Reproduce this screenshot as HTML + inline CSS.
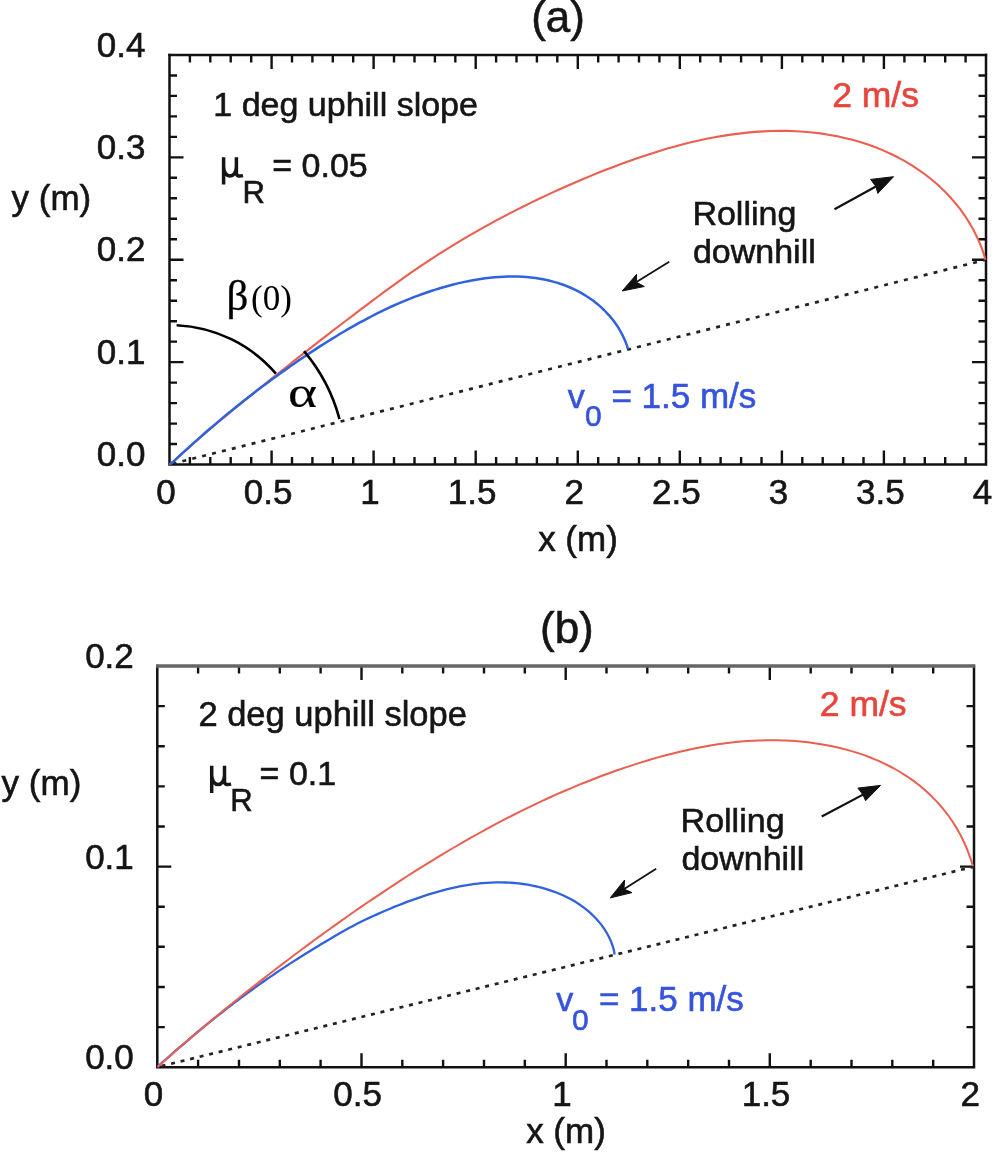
<!DOCTYPE html><html><head><meta charset="utf-8"><style>html,body{margin:0;padding:0;background:#fff;}svg{display:block;filter:blur(0.5px);}text{font-family:"Liberation Sans",sans-serif;}</style></head><body>
<svg width="996" height="1152" viewBox="0 0 996 1152">
<rect width="996" height="1152" fill="#fff"/>
<path d="M189.9,464.5v-7.5M189.9,55.0v7.5M210.3,464.5v-7.5M210.3,55.0v7.5M230.7,464.5v-7.5M230.7,55.0v7.5M251.2,464.5v-7.5M251.2,55.0v7.5M271.6,464.5v-14.0M271.6,55.0v14.0M292.0,464.5v-7.5M292.0,55.0v7.5M312.4,464.5v-7.5M312.4,55.0v7.5M332.8,464.5v-7.5M332.8,55.0v7.5M353.2,464.5v-7.5M353.2,55.0v7.5M373.6,464.5v-14.0M373.6,55.0v14.0M394.0,464.5v-7.5M394.0,55.0v7.5M414.5,464.5v-7.5M414.5,55.0v7.5M434.9,464.5v-7.5M434.9,55.0v7.5M455.3,464.5v-7.5M455.3,55.0v7.5M475.7,464.5v-14.0M475.7,55.0v14.0M496.1,464.5v-7.5M496.1,55.0v7.5M516.5,464.5v-7.5M516.5,55.0v7.5M536.9,464.5v-7.5M536.9,55.0v7.5M557.3,464.5v-7.5M557.3,55.0v7.5M577.8,464.5v-14.0M577.8,55.0v14.0M598.2,464.5v-7.5M598.2,55.0v7.5M618.6,464.5v-7.5M618.6,55.0v7.5M639.0,464.5v-7.5M639.0,55.0v7.5M659.4,464.5v-7.5M659.4,55.0v7.5M679.8,464.5v-14.0M679.8,55.0v14.0M700.2,464.5v-7.5M700.2,55.0v7.5M720.6,464.5v-7.5M720.6,55.0v7.5M741.1,464.5v-7.5M741.1,55.0v7.5M761.5,464.5v-7.5M761.5,55.0v7.5M781.9,464.5v-14.0M781.9,55.0v14.0M802.3,464.5v-7.5M802.3,55.0v7.5M822.7,464.5v-7.5M822.7,55.0v7.5M843.1,464.5v-7.5M843.1,55.0v7.5M863.5,464.5v-7.5M863.5,55.0v7.5M883.9,464.5v-14.0M883.9,55.0v14.0M904.4,464.5v-7.5M904.4,55.0v7.5M924.8,464.5v-7.5M924.8,55.0v7.5M945.2,464.5v-7.5M945.2,55.0v7.5M965.6,464.5v-7.5M965.6,55.0v7.5M169.5,444.0h7.5M986.0,444.0h-7.5M169.5,423.6h7.5M986.0,423.6h-7.5M169.5,403.1h7.5M986.0,403.1h-7.5M169.5,382.6h7.5M986.0,382.6h-7.5M169.5,362.1h14.0M986.0,362.1h-14.0M169.5,341.6h7.5M986.0,341.6h-7.5M169.5,321.2h7.5M986.0,321.2h-7.5M169.5,300.7h7.5M986.0,300.7h-7.5M169.5,280.2h7.5M986.0,280.2h-7.5M169.5,259.8h14.0M986.0,259.8h-14.0M169.5,239.3h7.5M986.0,239.3h-7.5M169.5,218.8h7.5M986.0,218.8h-7.5M169.5,198.3h7.5M986.0,198.3h-7.5M169.5,177.8h7.5M986.0,177.8h-7.5M169.5,157.4h14.0M986.0,157.4h-14.0M169.5,136.9h7.5M986.0,136.9h-7.5M169.5,116.4h7.5M986.0,116.4h-7.5M169.5,95.9h7.5M986.0,95.9h-7.5M169.5,75.5h7.5M986.0,75.5h-7.5" stroke="#111" stroke-width="2.4" fill="none"/>
<path d="M169.5,53.8V464.5H986.0V53.8" stroke="#111" stroke-width="2.5" fill="none" stroke-linejoin="miter"/>
<path d="M168.3,55.0H987.2" stroke="#111" stroke-width="2.6" fill="none"/>
<path d="M198.1,1067.2v-7.5M198.1,666.0v7.5M239.0,1067.2v-7.5M239.0,666.0v7.5M279.8,1067.2v-7.5M279.8,666.0v7.5M320.6,1067.2v-7.5M320.6,666.0v7.5M361.5,1067.2v-14.0M361.5,666.0v14.0M402.3,1067.2v-7.5M402.3,666.0v7.5M443.1,1067.2v-7.5M443.1,666.0v7.5M484.0,1067.2v-7.5M484.0,666.0v7.5M524.8,1067.2v-7.5M524.8,666.0v7.5M565.7,1067.2v-14.0M565.7,666.0v14.0M606.5,1067.2v-7.5M606.5,666.0v7.5M647.3,1067.2v-7.5M647.3,666.0v7.5M688.2,1067.2v-7.5M688.2,666.0v7.5M729.0,1067.2v-7.5M729.0,666.0v7.5M769.8,1067.2v-14.0M769.8,666.0v14.0M810.7,1067.2v-7.5M810.7,666.0v7.5M851.5,1067.2v-7.5M851.5,666.0v7.5M892.3,1067.2v-7.5M892.3,666.0v7.5M933.2,1067.2v-7.5M933.2,666.0v7.5M157.3,1027.1h7.5M974.0,1027.1h-7.5M157.3,987.0h7.5M974.0,987.0h-7.5M157.3,946.8h7.5M974.0,946.8h-7.5M157.3,906.7h7.5M974.0,906.7h-7.5M157.3,866.6h14.0M974.0,866.6h-14.0M157.3,826.5h7.5M974.0,826.5h-7.5M157.3,786.4h7.5M974.0,786.4h-7.5M157.3,746.2h7.5M974.0,746.2h-7.5M157.3,706.1h7.5M974.0,706.1h-7.5" stroke="#111" stroke-width="2.4" fill="none"/>
<path d="M157.3,664.8V1067.2H974.0V664.8" stroke="#111" stroke-width="2.5" fill="none" stroke-linejoin="miter"/>
<path d="M156.1,666.0H975.2" stroke="#666" stroke-width="3.4" fill="none"/>
<path d="M172.5,463.7L986.0,259.7" stroke="#222" stroke-width="2.7" stroke-dasharray="4 6.19" fill="none"/>
<path d="M160.3,1066.4L974.0,866.6" stroke="#222" stroke-width="2.7" stroke-dasharray="4 5.8" stroke-dashoffset="-1.3" fill="none"/>
<path d="M169.5,464.5 L175.7,459.2 L181.8,453.8 L187.9,448.4 L194.0,443.0 L200.1,437.6 L206.3,432.3 L212.5,427.0 L218.7,421.8 L224.9,416.6 L231.2,411.4 L237.5,406.2 L243.8,401.1 L250.1,395.9 L256.4,390.8 L262.8,385.7 L269.1,380.6 L275.5,375.6 L281.9,370.5 L288.3,365.5 L294.6,360.4 L301.1,355.4 L307.5,350.4 L313.9,345.4 L320.3,340.4 L326.8,335.4 L333.2,330.4 L339.7,325.5 L346.2,320.5 L352.7,315.6 L359.1,310.7 L365.6,305.8 L372.2,300.9 L378.7,296.0 L385.2,291.2 L391.8,286.4 L398.4,281.6 L405.0,276.9 L411.7,272.2 L418.4,267.6 L425.1,263.1 L431.9,258.6 L438.8,254.2 L445.6,249.8 L452.6,245.6 L459.5,241.4 L466.5,237.2 L473.6,233.1 L480.6,229.1 L487.8,225.1 L494.9,221.2 L502.1,217.4 L509.3,213.6 L516.6,209.9 L523.8,206.2 L531.2,202.6 L538.5,199.0 L545.9,195.6 L553.3,192.1 L560.7,188.8 L568.2,185.5 L575.7,182.2 L583.2,179.0 L590.7,175.9 L598.2,172.8 L605.8,169.8 L613.4,166.9 L621.0,164.0 L628.7,161.2 L636.4,158.5 L644.0,155.9 L651.8,153.4 L659.5,150.9 L667.3,148.6 L675.1,146.4 L683.0,144.3 L690.9,142.3 L698.8,140.5 L706.7,138.8 L714.7,137.3 L722.8,135.9 L730.8,134.6 L738.9,133.6 L747.0,132.6 L755.2,131.9 L763.3,131.4 L771.5,131.0 L779.7,130.9 L787.8,130.9 L796.0,131.2 L804.1,131.7 L812.3,132.5 L820.4,133.4 L828.4,134.7 L836.5,136.1 L844.4,137.9 L852.4,139.8 L860.2,142.1 L867.9,144.6 L875.6,147.3 L883.1,150.4 L890.5,153.7 L897.8,157.3 L904.9,161.2 L911.9,165.3 L918.6,169.8 L925.2,174.5 L931.6,179.5 L937.8,184.8 L943.7,190.4 L949.3,196.3 L954.7,202.4 L959.8,208.7 L964.6,215.3 L969.0,222.2 L973.1,229.2 L976.8,236.6 L980.2,244.1 L983.1,251.9 L985.5,259.6" stroke="#ec5e50" stroke-width="2.1" fill="none" stroke-linejoin="round"/>
<path d="M169.5,464.5 L173.2,461.8 L176.6,458.7 L179.9,455.5 L183.3,452.4 L186.7,449.3 L190.1,446.2 L193.5,443.1 L196.9,440.1 L200.3,437.1 L203.8,434.0 L207.2,431.0 L210.7,428.0 L214.2,425.1 L217.7,422.1 L221.2,419.1 L224.7,416.2 L228.3,413.3 L231.8,410.4 L235.4,407.5 L238.9,404.7 L242.5,401.8 L246.1,399.0 L249.7,396.2 L253.4,393.4 L257.0,390.6 L260.7,387.8 L264.3,385.1 L268.0,382.4 L271.7,379.6 L275.4,376.9 L279.1,374.3 L282.8,371.6 L286.6,369.0 L290.3,366.3 L294.1,363.7 L297.8,361.1 L301.6,358.5 L305.4,356.0 L309.2,353.4 L313.1,350.9 L316.9,348.4 L320.7,345.9 L324.6,343.5 L328.5,341.0 L332.4,338.6 L336.3,336.2 L340.2,333.8 L344.1,331.5 L348.1,329.2 L352.1,326.9 L356.0,324.7 L360.0,322.4 L364.1,320.3 L368.1,318.1 L372.2,316.0 L376.2,313.9 L380.3,311.9 L384.4,309.9 L388.6,307.9 L392.7,306.0 L396.9,304.2 L401.1,302.4 L405.3,300.6 L409.6,298.9 L413.8,297.2 L418.1,295.6 L422.4,294.0 L426.8,292.5 L431.1,291.0 L435.5,289.6 L439.9,288.2 L444.4,287.0 L448.8,285.7 L453.3,284.5 L457.8,283.4 L462.4,282.4 L466.9,281.4 L471.5,280.5 L476.1,279.7 L480.6,279.0 L485.2,278.3 L489.9,277.8 L494.5,277.3 L499.1,277.0 L503.7,276.7 L508.3,276.6 L512.8,276.5 L517.4,276.6 L522.0,276.8 L526.5,277.1 L531.0,277.5 L535.5,278.0 L539.9,278.7 L544.4,279.6 L548.8,280.5 L553.1,281.6 L557.4,282.9 L561.7,284.3 L566.0,285.8 L570.1,287.5 L574.3,289.4 L578.3,291.4 L582.3,293.6 L586.2,296.0 L590.0,298.5 L593.7,301.1 L597.2,303.9 L600.7,306.9 L604.0,310.0 L607.2,313.3 L610.3,316.7 L613.2,320.3 L615.9,324.0 L618.5,327.9 L620.8,332.0 L623.0,336.2 L625.0,340.5 L626.8,345.1 L628.0,349.2" stroke="#2f62dc" stroke-width="2.5" fill="none" stroke-linejoin="round"/>
<path d="M157.5,1067.0 L160.8,1063.9 L164.2,1060.8 L167.7,1057.8 L171.1,1054.8 L174.5,1051.7 L178.0,1048.7 L181.4,1045.8 L184.9,1042.8 L188.4,1039.8 L191.8,1036.9 L195.3,1033.9 L198.8,1031.0 L202.3,1028.1 L205.9,1025.2 L209.4,1022.4 L212.9,1019.5 L216.5,1016.7 L220.1,1013.8 L223.7,1011.0 L227.2,1008.2 L230.8,1005.5 L234.5,1002.7 L238.1,1000.0 L241.7,997.2 L245.4,994.5 L249.1,991.8 L252.8,989.2 L256.4,986.5 L260.2,983.9 L263.9,981.2 L267.6,978.6 L271.4,976.1 L275.2,973.5 L279.0,970.9 L282.8,968.4 L286.6,965.9 L290.4,963.4 L294.3,960.9 L298.1,958.5 L302.0,956.0 L305.9,953.6 L309.7,951.2 L313.6,948.8 L317.5,946.4 L321.4,944.1 L325.3,941.7 L329.2,939.4 L333.2,937.0 L337.1,934.8 L341.0,932.5 L345.0,930.3 L349.0,928.1 L353.0,925.9 L357.0,923.8 L361.0,921.8 L365.1,919.8 L369.2,917.9 L373.3,916.0 L377.5,914.1 L381.6,912.3 L385.8,910.5 L390.0,908.7 L394.2,906.9 L398.5,905.2 L402.7,903.6 L407.0,901.9 L411.3,900.3 L415.6,898.8 L420.0,897.3 L424.3,895.8 L428.7,894.4 L433.1,893.1 L437.5,891.8 L441.9,890.6 L446.4,889.4 L450.8,888.4 L455.3,887.4 L459.7,886.4 L464.2,885.6 L468.7,884.9 L473.2,884.2 L477.7,883.7 L482.2,883.2 L486.8,882.8 L491.3,882.6 L495.9,882.4 L500.4,882.4 L505.0,882.5 L509.5,882.7 L514.1,883.0 L518.7,883.4 L523.2,884.0 L527.8,884.7 L532.3,885.6 L536.8,886.5 L541.3,887.6 L545.7,888.9 L550.1,890.3 L554.5,891.8 L558.7,893.5 L562.9,895.3 L567.0,897.2 L571.0,899.3 L575.0,901.6 L578.8,904.0 L582.5,906.6 L586.1,909.3 L589.5,912.2 L592.8,915.3 L596.0,918.5 L599.0,921.9 L601.8,925.4 L604.4,929.1 L606.8,933.0 L609.0,937.0 L610.9,941.2 L612.5,945.5 L613.9,950.1 L614.6,954.7" stroke="#2f62dc" stroke-width="2.3" fill="none" stroke-linejoin="round"/>
<path d="M157.5,1067.0 L163.5,1061.6 L169.6,1056.2 L175.7,1050.8 L181.8,1045.5 L188.0,1040.2 L194.2,1035.0 L200.3,1029.7 L206.5,1024.5 L212.7,1019.4 L219.0,1014.2 L225.2,1009.1 L231.5,1004.0 L237.8,999.0 L244.1,993.9 L250.4,988.9 L256.8,983.9 L263.1,978.9 L269.5,974.0 L275.9,969.0 L282.3,964.1 L288.8,959.2 L295.3,954.3 L301.7,949.5 L308.3,944.6 L314.8,939.8 L321.3,935.1 L327.9,930.3 L334.5,925.6 L341.1,920.9 L347.7,916.2 L354.4,911.5 L361.1,906.9 L367.8,902.3 L374.5,897.8 L381.2,893.3 L387.9,888.8 L394.7,884.3 L401.5,879.9 L408.3,875.5 L415.1,871.2 L422.0,866.9 L428.9,862.6 L435.8,858.4 L442.7,854.2 L449.6,850.0 L456.6,846.0 L463.6,841.9 L470.6,837.9 L477.6,834.0 L484.7,830.1 L491.8,826.2 L498.9,822.4 L506.1,818.7 L513.3,815.0 L520.5,811.4 L527.7,807.9 L535.0,804.4 L542.3,800.9 L549.7,797.5 L557.0,794.2 L564.4,791.0 L571.9,787.8 L579.3,784.7 L586.9,781.7 L594.4,778.7 L602.0,775.8 L609.6,773.0 L617.3,770.3 L625.0,767.6 L632.7,765.1 L640.5,762.6 L648.3,760.2 L656.1,757.9 L664.0,755.7 L671.8,753.7 L679.8,751.7 L687.7,749.9 L695.6,748.2 L703.6,746.7 L711.6,745.3 L719.6,744.1 L727.6,743.0 L735.6,742.1 L743.7,741.3 L751.7,740.8 L759.8,740.4 L767.8,740.2 L775.9,740.2 L783.9,740.4 L792.0,740.8 L800.0,741.4 L808.1,742.3 L816.1,743.4 L824.1,744.7 L832.1,746.2 L840.1,748.0 L847.9,750.1 L855.8,752.4 L863.5,754.9 L871.1,757.8 L878.6,760.9 L885.9,764.3 L893.1,768.0 L900.1,772.0 L906.9,776.3 L913.5,780.9 L919.9,785.8 L926.0,791.0 L931.9,796.6 L937.5,802.4 L942.8,808.5 L947.8,814.8 L952.5,821.5 L956.8,828.4 L960.8,835.5 L964.4,842.9 L967.6,850.5 L970.4,858.3 L973.0,866.0" stroke="#ec5e50" stroke-width="2.0" fill="none" stroke-linejoin="round"/>
<path d="M176.6,325.2A139.5,139.5 0 0 1 275.9,373.7" stroke="#000" stroke-width="2.6" fill="none"/>
<path d="M304.0,351.2A175.5,175.5 0 0 1 339.5,419.1" stroke="#000" stroke-width="2.6" fill="none"/>
<path d="M834.5,209.2L881.8,183.2" stroke="#111" stroke-width="2.2" fill="none"/>
<path d="M893.6,176.7L870.6,179.4L875.9,186.4L877.8,193.4Z" fill="#111" stroke="#111" stroke-width="1" stroke-linejoin="round"/>
<path d="M669.2,261.7L631.6,285.1" stroke="#111" stroke-width="1.8" fill="none"/>
<path d="M622.2,291.0L636.6,274.3L636.3,282.2L644.3,286.5Z" fill="#111" stroke="#111" stroke-width="1" stroke-linejoin="round"/>
<path d="M821.7,816.5L868.7,791.6" stroke="#111" stroke-width="2.2" fill="none"/>
<path d="M880.5,785.4L857.9,788.1L862.9,794.7L865.6,800.7Z" fill="#111" stroke="#111" stroke-width="1" stroke-linejoin="round"/>
<path d="M656.2,868.7L619.4,892.1" stroke="#111" stroke-width="1.8" fill="none"/>
<path d="M610.2,897.9L624.6,880.0L624.0,889.1L632.0,892.6Z" fill="#111" stroke="#111" stroke-width="1" stroke-linejoin="round"/>
<text x="558.1" y="32.0" font-size="44.0" text-anchor="middle" fill="#151515" stroke="#151515" stroke-width="0.6">(a)</text>
<text x="145.5" y="466.1" font-size="35.0" text-anchor="end" fill="#151515" stroke="#151515" stroke-width="0.6">0.0</text>
<text x="145.5" y="363.7" font-size="35.0" text-anchor="end" fill="#151515" stroke="#151515" stroke-width="0.6">0.1</text>
<text x="145.5" y="261.4" font-size="35.0" text-anchor="end" fill="#151515" stroke="#151515" stroke-width="0.6">0.2</text>
<text x="145.5" y="159.0" font-size="35.0" text-anchor="end" fill="#151515" stroke="#151515" stroke-width="0.6">0.3</text>
<text x="145.5" y="56.6" font-size="35.0" text-anchor="end" fill="#151515" stroke="#151515" stroke-width="0.6">0.4</text>
<text x="166.0" y="504.2" font-size="35.0" text-anchor="middle" fill="#151515" stroke="#151515" stroke-width="0.6">0</text>
<text x="268.1" y="504.2" font-size="35.0" text-anchor="middle" fill="#151515" stroke="#151515" stroke-width="0.6">0.5</text>
<text x="370.1" y="504.2" font-size="35.0" text-anchor="middle" fill="#151515" stroke="#151515" stroke-width="0.6">1</text>
<text x="472.2" y="504.2" font-size="35.0" text-anchor="middle" fill="#151515" stroke="#151515" stroke-width="0.6">1.5</text>
<text x="574.2" y="504.2" font-size="35.0" text-anchor="middle" fill="#151515" stroke="#151515" stroke-width="0.6">2</text>
<text x="676.3" y="504.2" font-size="35.0" text-anchor="middle" fill="#151515" stroke="#151515" stroke-width="0.6">2.5</text>
<text x="778.4" y="504.2" font-size="35.0" text-anchor="middle" fill="#151515" stroke="#151515" stroke-width="0.6">3</text>
<text x="880.4" y="504.2" font-size="35.0" text-anchor="middle" fill="#151515" stroke="#151515" stroke-width="0.6">3.5</text>
<text x="982.5" y="504.2" font-size="35.0" text-anchor="middle" fill="#151515" stroke="#151515" stroke-width="0.6">4</text>
<text x="578.0" y="550.5" font-size="35.0" text-anchor="middle" fill="#151515" stroke="#151515" stroke-width="0.6">x (m)</text>
<text x="11.5" y="210.0" font-size="35.0" text-anchor="start" fill="#151515" stroke="#151515" stroke-width="0.6">y (m)</text>
<text x="213.3" y="116.4" font-size="34.0" text-anchor="start" fill="#151515" stroke="#151515" stroke-width="0.6">1 deg uphill slope</text>
<path d="M223.6,157.2V184.6M223.6,166.5C223.6,179.2 236.4,179.2 236.4,166.5M236.4,157.2V172.8C236.4,176 238.5,176.6 243,175.6" transform="translate(0,0)" stroke="#151515" stroke-width="3.5" fill="none" stroke-linecap="butt"/>
<text x="242.5" y="202.8" font-size="31.0" text-anchor="start" fill="#151515" stroke="#151515" stroke-width="0.6">R</text>
<text x="272.3" y="176.7" font-size="34.0" text-anchor="start" fill="#151515" stroke="#151515" stroke-width="0.6">= 0.05</text>
<text x="832.2" y="107.2" font-size="35.5" text-anchor="start" fill="#e8453c" stroke="#e8453c" stroke-width="0.6">2 m/s</text>
<text x="692.4" y="224.6" font-size="34.0" text-anchor="start" fill="#151515" stroke="#151515" stroke-width="0.6">Rolling</text>
<text x="692.9" y="263.0" font-size="34.0" text-anchor="start" fill="#151515" stroke="#151515" stroke-width="0.6">downhill</text>
<text x="567.7" y="407.8" font-size="34.0" text-anchor="start" fill="#3553dc" stroke="#3553dc" stroke-width="0.6">v</text>
<text x="584.9" y="426.0" font-size="30.0" text-anchor="start" fill="#3553dc" stroke="#3553dc" stroke-width="0.6">0</text>
<text x="611.4" y="408.0" font-size="35.0" text-anchor="start" fill="#3553dc" stroke="#3553dc" stroke-width="0.6">= 1.5 m/s</text>
<text x="226.6" y="310" font-size="43" fill="#000" stroke="#000" stroke-width="0.3" style="font-family:'Liberation Serif',serif">β</text>
<text x="251" y="310" font-size="35" fill="#000" style="font-family:'Liberation Serif',serif">(0)</text>
<text x="0" y="0" font-size="44" fill="#000" stroke="#000" stroke-width="0.15" style="font-family:'Liberation Serif',serif" transform="translate(288,407) scale(1.26,1)">α</text>
<text x="566.9" y="642.5" font-size="44.0" text-anchor="middle" fill="#151515" stroke="#151515" stroke-width="0.6">(b)</text>
<text x="133.8" y="1069.2" font-size="35.0" text-anchor="end" fill="#151515" stroke="#151515" stroke-width="0.6">0.0</text>
<text x="133.8" y="868.6" font-size="35.0" text-anchor="end" fill="#151515" stroke="#151515" stroke-width="0.6">0.1</text>
<text x="133.8" y="668.0" font-size="35.0" text-anchor="end" fill="#151515" stroke="#151515" stroke-width="0.6">0.2</text>
<text x="153.5" y="1105.7" font-size="35.0" text-anchor="middle" fill="#151515" stroke="#151515" stroke-width="0.6">0</text>
<text x="357.7" y="1105.7" font-size="35.0" text-anchor="middle" fill="#151515" stroke="#151515" stroke-width="0.6">0.5</text>
<text x="561.9" y="1105.7" font-size="35.0" text-anchor="middle" fill="#151515" stroke="#151515" stroke-width="0.6">1</text>
<text x="766.0" y="1105.7" font-size="35.0" text-anchor="middle" fill="#151515" stroke="#151515" stroke-width="0.6">1.5</text>
<text x="970.2" y="1105.7" font-size="35.0" text-anchor="middle" fill="#151515" stroke="#151515" stroke-width="0.6">2</text>
<text x="566.0" y="1143.0" font-size="35.0" text-anchor="middle" fill="#151515" stroke="#151515" stroke-width="0.6">x (m)</text>
<text x="1.6" y="795.0" font-size="35.0" text-anchor="start" fill="#151515" stroke="#151515" stroke-width="0.6">y (m)</text>
<text x="198.4" y="726.4" font-size="34.5" text-anchor="start" fill="#151515" stroke="#151515" stroke-width="0.6">2 deg uphill slope</text>
<path d="M223.6,157.2V184.6M223.6,166.5C223.6,179.2 236.4,179.2 236.4,166.5M236.4,157.2V172.8C236.4,176 238.5,176.6 243,175.6" transform="translate(-11.9,608.5)" stroke="#151515" stroke-width="3.5" fill="none" stroke-linecap="butt"/>
<text x="230.2" y="811.0" font-size="31.0" text-anchor="start" fill="#151515" stroke="#151515" stroke-width="0.6">R</text>
<text x="259.6" y="784.6" font-size="34.0" text-anchor="start" fill="#151515" stroke="#151515" stroke-width="0.6">= 0.1</text>
<text x="819.8" y="715.9" font-size="35.5" text-anchor="start" fill="#e8453c" stroke="#e8453c" stroke-width="0.6">2 m/s</text>
<text x="680.6" y="831.9" font-size="34.0" text-anchor="start" fill="#151515" stroke="#151515" stroke-width="0.6">Rolling</text>
<text x="681.4" y="869.5" font-size="34.0" text-anchor="start" fill="#151515" stroke="#151515" stroke-width="0.6">downhill</text>
<text x="556.3" y="1010.6" font-size="34.0" text-anchor="start" fill="#3553dc" stroke="#3553dc" stroke-width="0.6">v</text>
<text x="571.9" y="1029.5" font-size="30.0" text-anchor="start" fill="#3553dc" stroke="#3553dc" stroke-width="0.6">0</text>
<text x="598.9" y="1010.8" font-size="35.0" text-anchor="start" fill="#3553dc" stroke="#3553dc" stroke-width="0.6">= 1.5 m/s</text>
</svg></body></html>
